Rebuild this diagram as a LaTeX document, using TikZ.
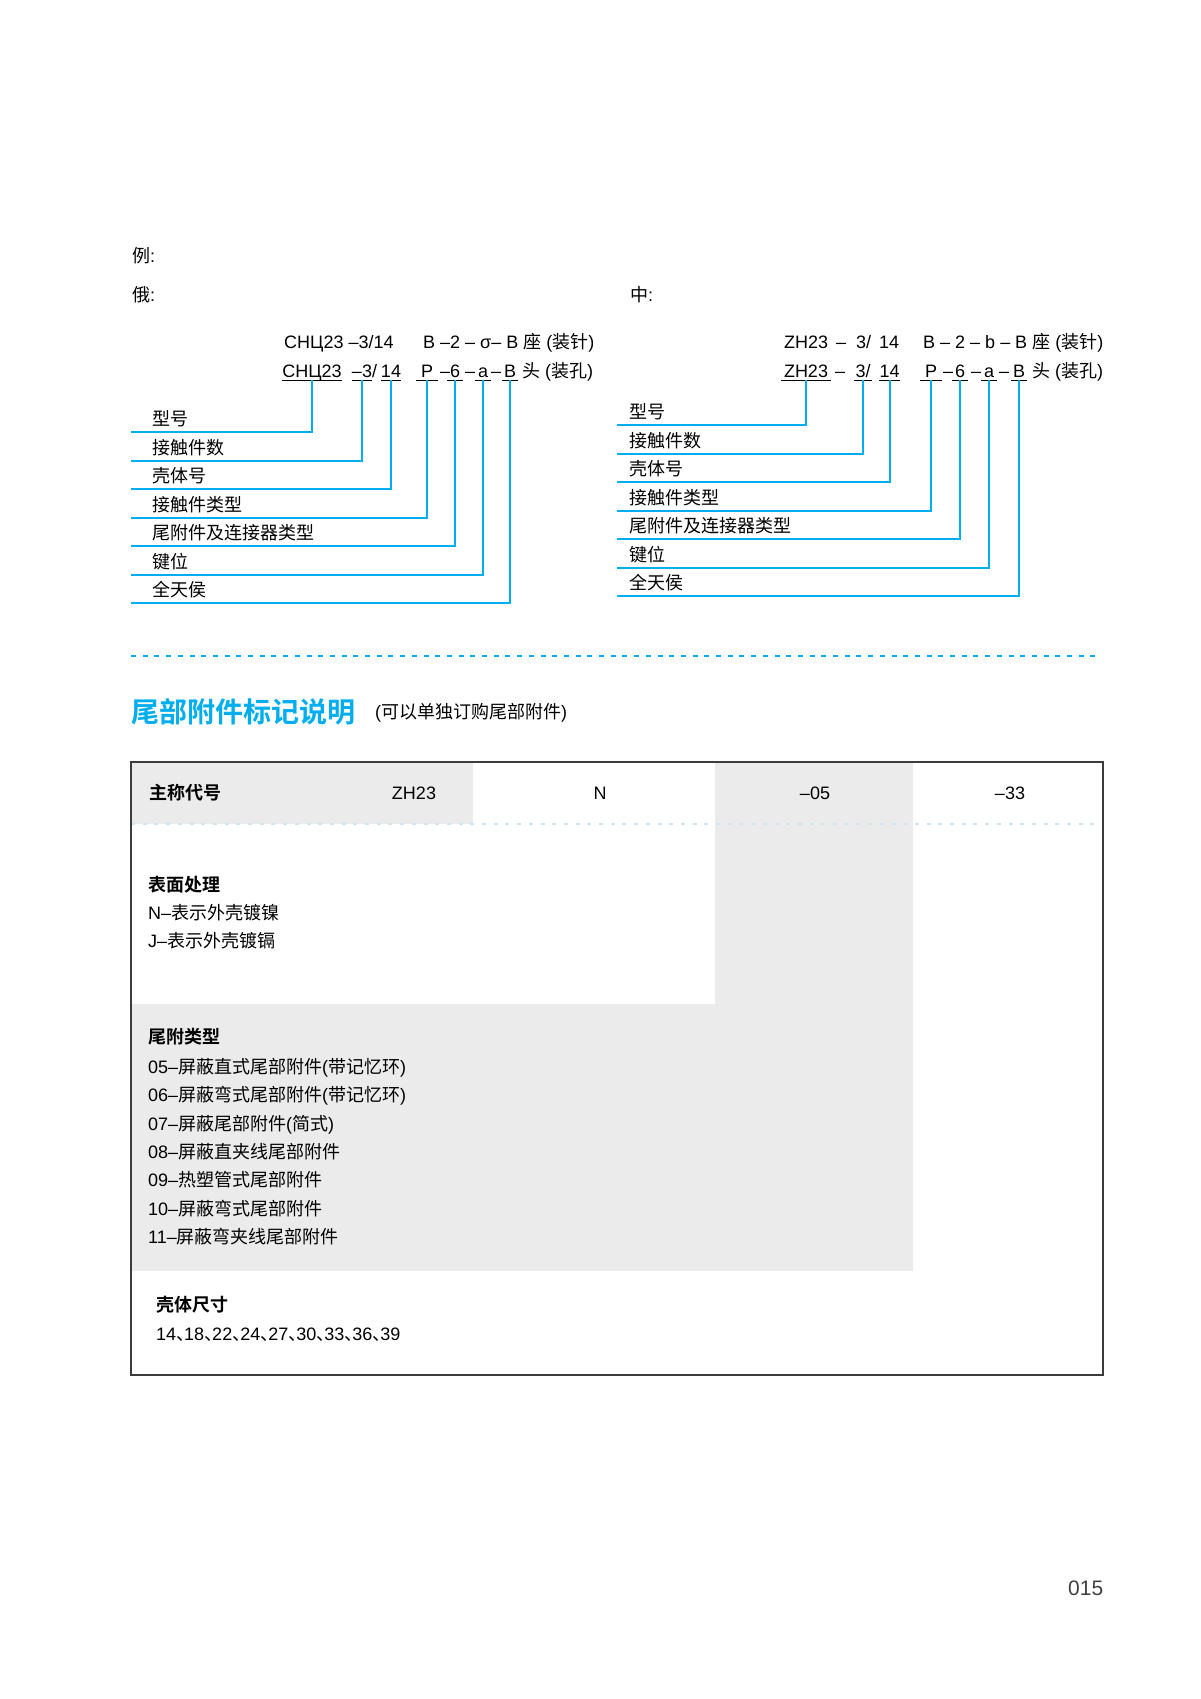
\documentclass[tikz,border=0pt]{standalone}
\usepackage{fontspec}
\setmainfont{Liberation Sans}
\newfontfamily\cjk{Noto Sans CJK SC}[BoldFont={Noto Sans CJK SC Bold}]
\usepackage{xcolor}
\usetikzlibrary{positioning}
\definecolor{leadblue}{RGB}{0,174,239}
\definecolor{dotblue}{RGB}{200,232,248}
\definecolor{cellgray}{RGB}{235,235,235}
\definecolor{framegray}{RGB}{60,60,60}
\newcommand{\zh}[1]{{\cjk #1}}
\newcommand{\dun}{\makebox[8pt][l]{\zh{、}}}
\newcommand{\bodyfont}{\fontsize{18}{20}\selectfont}

\begin{document}
\begin{tikzpicture}[
  x=1pt, y=-1pt,
  cd/.style={anchor=base west, inner sep=0pt, font=\bodyfont},
  ul/.style={cd, anchor=base, text depth=3pt,
             append after command={(\tikzlastnode.south west) edge[uline] (\tikzlastnode.south east)}},
  uline/.style={draw=black, line width=0.9pt},
  lab/.style={anchor=south west, inner xsep=#1, inner ysep=0pt, text depth=6pt,
              font=\bodyfont\cjk},
  lab/.default=21pt,
  lead/.style={draw=leadblue, line width=2pt},
  hd/.style={cd, font=\bodyfont\cjk\bfseries},
  mid/.style={cd, anchor=base}
]
\useasboundingbox (0,0) rectangle (1200,1699);

% examples
\node[cd] (eg) at (132,262) {\zh{例}:};
\node[cd] (ru) at (132,301) {\zh{俄}:};
\node[cd] (cn) at (630,301) {\zh{中}:};

% russian code
\node[cd] (ra) at (284,348) {СНЦ23 –3/14};
\node[cd] (rb) at (423,348) {B –2 – σ– B \zh{座} (\zh{装针})};
\node[ul, minimum width=56pt] (r1) at (312,377) {СНЦ23};
\node[ul, minimum width=20pt] (r2) at (362,377) {–3};
\node[cd] (rs1) at (372,377) {/};
\node[ul, minimum width=19pt] (r3) at (391,377) {14};
\node[ul, minimum width=22pt] (r4) at (427,377) {P};
\node[cd] (rs2) at (440,377) {–};
\node[ul, minimum width=15pt] (r5) at (455,377) {6};
\node[cd] (rs3) at (465,377) {–};
\node[ul, minimum width=15pt] (r6) at (483,377) {a};
\node[cd] (rs4) at (491,377) {–};
\node[ul, minimum width=15pt] (r7) at (510,377) {B};
\node[cd] (rs5) at (522,377) {\zh{头} (\zh{装孔})};

\node[lab] (rl1) at (131,432)   {型号};
\node[lab] (rl2) at (131,460.5) {接触件数};
\node[lab] (rl3) at (131,489)   {壳体号};
\node[lab] (rl4) at (131,517.5) {接触件类型};
\node[lab] (rl5) at (131,546)   {尾附件及连接器类型};
\node[lab] (rl6) at (131,574.5) {键位};
\node[lab] (rl7) at (131,603)   {全天侯};

\draw[lead] (r1.south) |- (rl1.south west);
\draw[lead] (r2.south) |- (rl2.south west);
\draw[lead] (r3.south) |- (rl3.south west);
\draw[lead] (r4.south) |- (rl4.south west);
\draw[lead] (r5.south) |- (rl5.south west);
\draw[lead] (r6.south) |- (rl6.south west);
\draw[lead] (r7.south) |- (rl7.south west);

% chinese code
\node[cd] (ca) at (784,348) {ZH23\hspace{8pt}–\hspace{10pt}3/\hspace{8pt}14};
\node[cd] (cb) at (923,348) {B – 2 – b – B \zh{座} (\zh{装针})};
\node[ul, minimum width=50pt] (c1) at (806,377) {ZH23};
\node[cd] (cs1) at (835,377) {–};
\node[ul, minimum width=18pt] (c2) at (863,377) {3/};
\node[ul, minimum width=19pt] (c3) at (889.5,377) {14};
\node[ul, minimum width=22pt] (c4) at (931,377) {P};
\node[cd] (cs2) at (943,377) {–};
\node[ul, minimum width=16pt] (c5) at (960,377) {6};
\node[cd] (cs3) at (971,377) {–};
\node[ul, minimum width=16pt] (c6) at (989,377) {a};
\node[cd] (cs4) at (999,377) {–};
\node[ul, minimum width=16pt] (c7) at (1019,377) {B};
\node[cd] (cs5) at (1032,377) {\zh{头} (\zh{装孔})};

\node[lab=12pt] (cl1) at (617,425)   {型号};
\node[lab=12pt] (cl2) at (617,453.5) {接触件数};
\node[lab=12pt] (cl3) at (617,482)   {壳体号};
\node[lab=12pt] (cl4) at (617,510.5) {接触件类型};
\node[lab=12pt] (cl5) at (617,539)   {尾附件及连接器类型};
\node[lab=12pt] (cl6) at (617,567.5) {键位};
\node[lab=12pt] (cl7) at (617,596)   {全天侯};

\draw[lead] (c1.south) |- (cl1.south west);
\draw[lead] (c2.south) |- (cl2.south west);
\draw[lead] (c3.south) |- (cl3.south west);
\draw[lead] (c4.south) |- (cl4.south west);
\draw[lead] (c5.south) |- (cl5.south west);
\draw[lead] (c6.south) |- (cl6.south west);
\draw[lead] (c7.south) |- (cl7.south west);

\draw[leadblue, line width=2pt, dash pattern=on 5pt off 6.7pt] (131,656) -- (1102,656);

% accessory marking
\node[cd, font=\fontsize{28}{31}\selectfont\cjk\bfseries, text=leadblue] (title) at (131,722) {尾部附件标记说明};
\node[cd, font=\fontsize{18}{20}\selectfont] (sub) at (375,718) {(\zh{可以单独订购尾部附件})};

\fill[cellgray] (131,762) rectangle (473,824);
\fill[cellgray] (715,762) rectangle (913,1004);
\fill[cellgray] (131,1004) rectangle (913,1271);
\draw[dotblue, line width=2pt, dash pattern=on 4pt off 7.7pt] (131,824) -- (1103,824);
\draw[framegray, line width=1.6pt] (131,762) rectangle (1103,1375);

\node[hd] (h0) at (149,799) {主称代号};
\node[mid] (h1) at (414,799) {ZH23};
\node[mid] (h2) at (600,799) {N};
\node[mid] (h3) at (815,799) {–05};
\node[mid] (h4) at (1010,799) {–33};

\node[hd] (sf) at (148,891) {表面处理};
\node[cd] (sf1) at (148,919.5) {N–\zh{表示外壳镀镍}};
\node[cd] (sf2) at (148,947.5) {J–\zh{表示外壳镀镉}};

\node[hd] (wf) at (148,1043) {尾附类型};
\node[cd] (wf1) at (148,1073.5) {05–\zh{屏蔽直式尾部附件}(\zh{带记忆环})};
\node[cd] (wf2) at (148,1101.8) {06–\zh{屏蔽弯式尾部附件}(\zh{带记忆环})};
\node[cd] (wf3) at (148,1130.1) {07–\zh{屏蔽尾部附件}(\zh{简式})};
\node[cd] (wf4) at (148,1158.4) {08–\zh{屏蔽直夹线尾部附件}};
\node[cd] (wf5) at (148,1186.7) {09–\zh{热塑管式尾部附件}};
\node[cd] (wf6) at (148,1215)   {10–\zh{屏蔽弯式尾部附件}};
\node[cd] (wf7) at (148,1243.3) {11–\zh{屏蔽弯夹线尾部附件}};

\node[hd] (kt) at (156,1311) {壳体尺寸};
\node[cd] (kt1) at (156,1340) {14\dun18\dun22\dun24\dun27\dun30\dun33\dun36\dun39};

\node[cd, font=\fontsize{21}{24}\selectfont, text=black!75] (pg) at (1068,1595) {015};
\end{tikzpicture}
\end{document}
